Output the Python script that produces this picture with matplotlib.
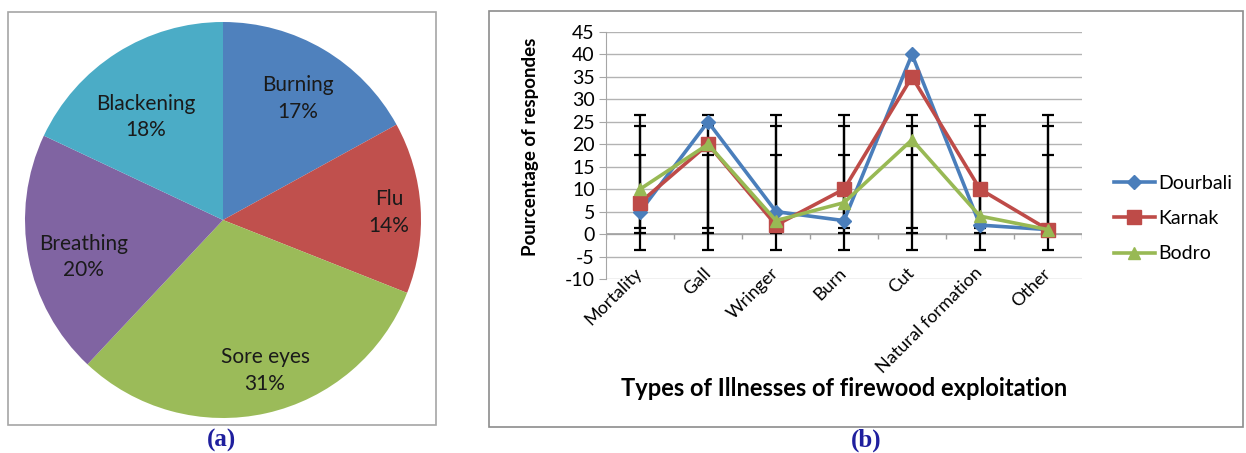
import numpy as np
import matplotlib.pyplot as plt
from matplotlib.patches import Rectangle

plt.rcParams['font.family'] = ['Lato', 'DejaVu Sans']
plt.rcParams['axes.unicode_minus'] = False

# panel (a) data
illnesses = ['Burning', 'Flu', 'Sore eyes', 'Breathing', 'Blackening']
shares = [17, 14, 31, 20, 18]
pie_colors = ['#4F81BD', '#C0504D', '#9BBB59', '#8064A2', '#4BACC6']
# where the labels sit inside each slice (fraction of radius, angle shift in deg)
label_radius = [0.72, 0.84, 0.79, 0.73, 0.65]
label_shift = [-1, -1, 3, 4, 4.5]

# panel (b) data
categories = ['Mortality', 'Gall', 'Wringer', 'Burn', 'Cut', 'Natural formation', 'Other']
dourbali = [5, 25, 5, 3, 40, 2, 1]
karnak = [7, 20, 2, 10, 35, 10, 1]
bodro = [10, 20, 3, 7, 21, 4, 1]
series_names = ['Dourbali', 'Karnak', 'Bodro']
series_colors = ['#4A7EBB', '#BE4B48', '#98B954']
series_markers = ['D', 's', '^']
marker_sizes = [7, 10, 9]

W, H = 1246, 453
fig = plt.figure(figsize=(W / 100, H / 100), dpi=100)

def fx(px):
    return px / W

def fy(py):
    return 1 - py / H

# frames around both panels
fig.patches.append(Rectangle((fx(8), fy(425)), fx(428), (413) / H, transform=fig.transFigure,
                             fill=False, edgecolor='#a6a6a6', lw=1.2))
fig.patches.append(Rectangle((fx(489), fy(427)), fx(754), (416) / H, transform=fig.transFigure,
                             fill=False, edgecolor='#8c8c8c', lw=1.2))

# ---- pie ----
r = 198
cx, cy = 223, 220
ax1 = fig.add_axes([fx(cx - r), fy(cy + r), fx(2 * r), 2 * r / H])
wedges, _ = ax1.pie(shares, colors=pie_colors, startangle=90, counterclock=False,
                    radius=1, wedgeprops=dict(linewidth=0))
for w, name, pct, rad, sh in zip(wedges, illnesses, shares, label_radius, label_shift):
    ang = np.deg2rad((w.theta1 + w.theta2) / 2 + sh)
    ax1.text(rad * np.cos(ang), rad * np.sin(ang), f'{name}\n{pct}%', ha='center', va='center',
             fontsize=15, color='#1a1a1a', linespacing=1.4)
ax1.set_xlim(-1, 1)
ax1.set_ylim(-1, 1)
ax1.set_aspect('equal')
ax1.axis('off')

# ---- line chart ----
ax2 = fig.add_axes([fx(606), fy(279), fx(476), (279 - 32) / H])
x = np.arange(len(categories))
all_series = [dourbali, karnak, bodro]

for vals, name, col, mk, ms in zip(all_series, series_names, series_colors, series_markers, marker_sizes):
    vals = np.array(vals, dtype=float)
    ax2.plot(x, vals, color=col, lw=2.6, marker=mk, markersize=ms, label=name, zorder=3)
    # Excel style standard deviation error bars, centred at the series mean
    m = vals.mean()
    sd = vals.std(ddof=1)
    ax2.errorbar(x, np.full_like(vals, m), yerr=sd, fmt='none', ecolor='black',
                 elinewidth=1.6, capsize=4, capthick=1.6, zorder=2.5)

ax2.set_xlim(-0.5, len(categories) - 0.5)
ax2.set_ylim(-10, 45)
ax2.set_yticks(np.arange(-10, 46, 5))
ax2.grid(axis='y', color='#b3b3b3', lw=1)
ax2.set_axisbelow(True)
for s in ['top', 'right', 'bottom']:
    ax2.spines[s].set_visible(False)
ax2.spines['left'].set_color('#a6a6a6')
ax2.tick_params(axis='y', length=5, color='#a6a6a6', labelsize=14, pad=3)

# category axis crossing at zero
ax2.axhline(0, color='#a0a0a0', lw=1.2, zorder=1)
ax2.vlines(np.arange(len(categories) + 1) - 0.5, -1.1, 0, color='#a0a0a0', lw=1, zorder=1)

ax2.set_xticks(x)
ax2.set_xticklabels(categories, rotation=45, ha='right', va='center', rotation_mode='anchor',
                    fontsize=13)
ax2.tick_params(axis='x', length=0, pad=-6)
ax2.set_ylabel('Pourcentage of respondes', fontsize=13.5, fontweight='bold')
ax2.yaxis.set_label_coords(-0.141, 0.534)
fig.text(fx(844), fy(388), 'Types of Illnesses of firewood exploitation', ha='center', va='center',
         fontsize=17, fontweight='bold')

leg = ax2.legend(loc='center left', bbox_to_anchor=(1.03, 0.245), frameon=False, fontsize=14,
                 labelspacing=0.95, handlelength=2.1, handletextpad=0.2)

# panel captions
fig.text(fx(222), fy(440), '(a)', ha='center', va='center', fontsize=18, fontweight='bold',
         color='#1f1f9e', family='Liberation Serif')
fig.text(fx(866), fy(440), '(b)', ha='center', va='center', fontsize=18, fontweight='bold',
         color='#1f1f9e', family='Liberation Serif')

fig.savefig('out.png', dpi=100)
